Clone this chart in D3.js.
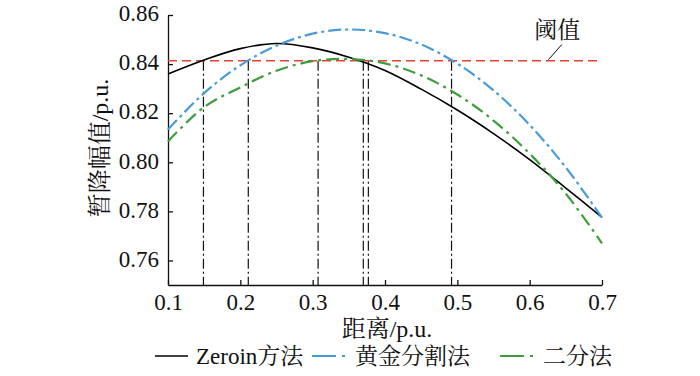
<!DOCTYPE html>
<html>
<head>
<meta charset="utf-8">
<script src="https://cdn.jsdelivr.net/npm/d3@7"></script>
<style>
body{margin:0;background:#fff}
</style>
</head>
<body>
<div class="chart"></div>
<script>
// values
var distX = [0.10, 0.15, 0.20, 0.25, 0.30, 0.35, 0.40, 0.45, 0.50, 0.55, 0.60, 0.65, 0.70]
var zeroinY = [0.8360, 0.8417, 0.8463, 0.8484, 0.8466, 0.8428, 0.8374, 0.8298, 0.8213, 0.8117, 0.8011, 0.7895, 0.7776]
var goldenY = [0.8134, 0.8282, 0.8395, 0.8475, 0.8524, 0.8541, 0.8526, 0.8480, 0.8402, 0.8293, 0.8152, 0.7979, 0.7774]
var bisectY = [0.8085, 0.8225, 0.8305, 0.8373, 0.8412, 0.8421, 0.8403, 0.8354, 0.8276, 0.8170, 0.8035, 0.7872, 0.7670]
var threshold = 0.8414
var crossX = [0.149, 0.211, 0.3075, 0.370, 0.377, 0.492]
var xTicks = [0.1, 0.2, 0.3, 0.4, 0.5, 0.6, 0.7]
var yTicks = [0.76, 0.78, 0.80, 0.82, 0.84, 0.86]
var legendNames = ["Zeroin方法", "黄金分割法", "二分法"]

var font = "'Liberation Serif', 'Noto Serif CJK SC', serif"
var width = 700, height = 376
var svg = d3.select(".chart").append("svg").attr("width", width).attr("height", height)
	.style("font-family", font)

//scales
var xPos = d3.scaleLinear().domain([0.1, 0.7]).range([168, 602])
var yPos = d3.scaleLinear().domain([0.75, 0.86]).range([285, 15])

var series = [
	{name: legendNames[0], ys: zeroinY, color: "#000", w: 1.6, dash: null},
	{name: legendNames[1], ys: goldenY, color: "#4a9bd5", w: 2.2, dash: "13,4,3,4"},
	{name: legendNames[2], ys: bisectY, color: "#3e9e3e", w: 2.2, dash: "13,5,3,5"}
]

//axes
var xAxis = svg.append("g").attr("transform", "translate(0," + yPos(0.75) + ")")
	.call(d3.axisBottom(xPos).tickValues(xTicks).tickFormat(d3.format(".1f")).tickSizeInner(-5).tickSizeOuter(0).tickPadding(9))
var yAxis = svg.append("g").attr("transform", "translate(" + xPos(0.1) + ",0)")
	.call(d3.axisLeft(yPos).tickValues(yTicks).tickFormat(d3.format(".2f")).tickSizeInner(-5).tickSizeOuter(0).tickPadding(9))
svg.selectAll("g").attr("font-family", null)
svg.selectAll(".domain, .tick line").attr("stroke", "#111").attr("stroke-width", 1.3)
svg.selectAll(".tick text").style("font-size", "23px").attr("fill", "#111")
yAxis.selectAll(".tick text").attr("dy", "0.25em")

//axis titles
svg.append("text").attr("x", 387).attr("y", 337).attr("text-anchor", "middle")
	.style("font-size", "24px").attr("fill", "#111").text("距离/p.u.")
svg.append("text").attr("transform", "translate(108,148) rotate(-90)").attr("text-anchor", "middle")
	.style("font-size", "24px").attr("fill", "#111").text("暂降幅值/p.u.")

//drop lines at threshold crossings
svg.append("g").selectAll("line").data(crossX).enter().append("line")
	.attr("x1", function(d){return xPos(d)}).attr("x2", function(d){return xPos(d)})
	.attr("y1", yPos(threshold)).attr("y2", yPos(0.75))
	.attr("stroke", "#111").attr("stroke-width", 1.2).attr("stroke-dasharray", "10,3,2,3")

//threshold
svg.append("line").attr("x1", xPos(0.1)).attr("x2", xPos(0.697))
	.attr("y1", yPos(threshold)).attr("y2", yPos(threshold))
	.attr("stroke", "#e8402e").attr("stroke-width", 1.5).attr("stroke-dasharray", "9,5")
svg.append("line").attr("x1", xPos(0.626)).attr("y1", yPos(threshold) - 1)
	.attr("x2", xPos(0.6445)).attr("y2", yPos(0.848))
	.attr("stroke", "#111").attr("stroke-width", 1)
svg.append("text").attr("x", xPos(0.638)).attr("y", 38).attr("text-anchor", "middle")
	.style("font-size", "23px").attr("fill", "#111").text("阈值")

//curves
var line = d3.line().curve(d3.curveCatmullRom.alpha(0.5))
	.x(function(d){return xPos(d[0])}).y(function(d){return yPos(d[1])})
series.forEach(function(s) {
	svg.append("path").attr("d", line(d3.zip(distX, s.ys))).attr("fill", "none")
		.attr("stroke", s.color).attr("stroke-width", s.w)
		.attr("stroke-dasharray", s.dash)
})

//legend
var legendX = [155, 312, 500]
var lg = svg.append("g").selectAll("g").data(series).enter().append("g")
	.attr("transform", function(d, i){return "translate(" + legendX[i] + ",356)"})
lg.append("line").attr("x1", 0).attr("x2", function(d){return d.dash ? 36 : 33})
	.attr("stroke", function(d){return d.color}).attr("stroke-width", function(d){return d.w})
	.attr("stroke-dasharray", function(d){return d.dash ? "24,6,3,4" : null})
lg.append("text").attr("x", function(d){return d.dash ? 43 : 41}).attr("dy", "0.33em")
	.style("font-size", "23px").attr("fill", "#111").text(function(d){return d.name})
</script>
</body>
</html>
